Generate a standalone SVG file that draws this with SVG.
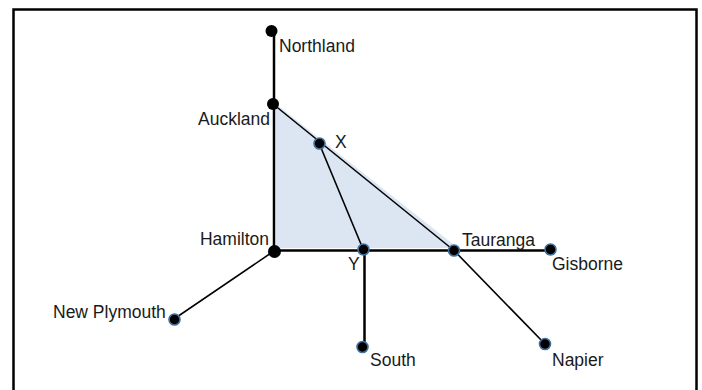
<svg xmlns="http://www.w3.org/2000/svg" width="702" height="390" viewBox="0 0 702 390">
<style>
.lbl{font-family:"Liberation Sans",Arial,sans-serif;font-size:17.5px;fill:#1a1a1a}
.thick{stroke:#000;stroke-width:2.5;fill:none}
.thin{stroke:#000;stroke-width:1.6;fill:none}
.bdot{fill:#000}
.cdot{fill:#000;stroke:#41719c;stroke-width:1.6}
</style>
<rect x="0" y="0" width="702" height="390" fill="#fff"/>
<rect x="13.5" y="9.5" width="683" height="400" fill="none" stroke="#000" stroke-width="2.5"/>
<polygon points="276,104 276,248 458,248" fill="#dce6f2"/>
<g id="connectors">
<line class="thick" x1="274" y1="31" x2="274" y2="251"/>
<line class="thick" x1="274" y1="250.5" x2="551" y2="250.5"/>
<line class="thin" x1="273" y1="104" x2="454" y2="250.5"/>
<line class="thin" x1="319" y1="143" x2="363" y2="249"/>
<line class="thick" x1="364.5" y1="250" x2="364.5" y2="347"/>
<line class="thin" x1="454" y1="250.5" x2="545" y2="344"/>
<line class="thin" x1="274" y1="251" x2="174" y2="319"/>
</g>
<g id="northland"><circle class="bdot" cx="271.5" cy="31" r="6"/><text class="lbl" x="279" y="52">Northland</text></g>
<g id="auckland"><circle class="bdot" cx="273" cy="104" r="6"/><text class="lbl" x="270" y="125" text-anchor="end">Auckland</text></g>
<g id="hamilton"><circle class="bdot" cx="274.5" cy="251.5" r="6.5"/><text class="lbl" x="269" y="245" text-anchor="end">Hamilton</text></g>
<g id="x"><circle class="cdot" cx="319.5" cy="143.5" r="5.5"/><text class="lbl" x="335" y="148">X</text></g>
<g id="y"><circle class="cdot" cx="363.5" cy="249.5" r="5.5"/><text class="lbl" x="348" y="270">Y</text></g>
<g id="tauranga"><circle class="cdot" cx="454" cy="250.5" r="5.5"/><text class="lbl" x="462" y="246">Tauranga</text></g>
<g id="gisborne"><circle class="cdot" cx="550.5" cy="249.5" r="5.5"/><text class="lbl" x="552" y="270">Gisborne</text></g>
<g id="newplymouth"><circle class="cdot" cx="174.5" cy="319.5" r="5.5"/><text class="lbl" x="53" y="318">New Plymouth</text></g>
<g id="south"><circle class="cdot" cx="362.5" cy="347" r="5.5"/><text class="lbl" x="370" y="366">South</text></g>
<g id="napier"><circle class="cdot" cx="545" cy="344" r="5.5"/><text class="lbl" x="552" y="366">Napier</text></g>
</svg>
